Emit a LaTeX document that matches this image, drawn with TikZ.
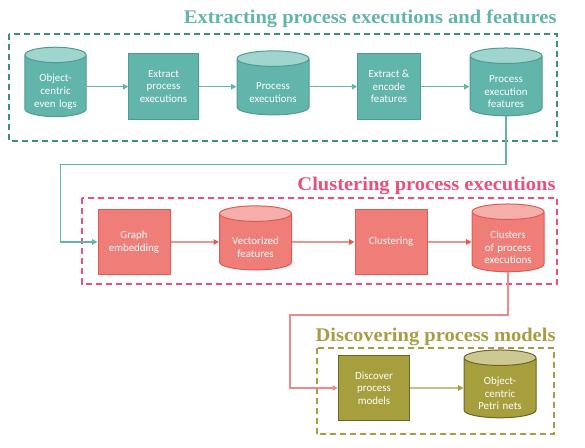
\documentclass[tikz,border=0pt]{standalone}
\usepackage{fontspec}
\setmainfont{Carlito}
\newfontfamily\headfont[FakeStretch=1.06]{Liberation Serif}
\usetikzlibrary{shapes.geometric,arrows.meta}

\definecolor{tealbody}{RGB}{98,181,170}
\definecolor{tealtop}{RGB}{160,213,206}
\definecolor{tealedge}{RGB}{78,156,146}
\definecolor{tealframe}{RGB}{63,140,131}
\definecolor{salmonbody}{RGB}{239,125,120}
\definecolor{salmontop}{RGB}{244,175,171}
\definecolor{salmonedge}{RGB}{226,90,82}
\definecolor{pinkframe}{RGB}{236,78,125}
\definecolor{pinkhead}{RGB}{233,80,122}
\definecolor{redlink}{RGB}{240,138,136}
\definecolor{olivebody}{RGB}{167,158,62}
\definecolor{olivetop}{RGB}{205,200,146}
\definecolor{oliveedge}{RGB}{107,102,40}
\definecolor{olivehead}{RGB}{168,157,69}

\tikzset{every picture/.style={line width=0.75pt},
  txt/.style={text=white,font=\fontsize{8.2}{9.5}\selectfont,align=center,inner sep=0pt},
  stepbox/.style={txt,rectangle,draw=#1edge,fill=#1body,minimum width=52pt,minimum height=49pt},
  store/.style={txt,cylinder,shape border rotate=90,aspect=0.215,draw=#1edge,
    cylinder uses custom fill,cylinder body fill=#1body,cylinder end fill=#1top,
    text width=54pt,minimum height=48pt,execute at begin node={\rule{0pt}{14pt}}},
  frame/.style={draw=#1,dash pattern=on 4.5pt off 3pt,line width=1.5pt},
  head/.style={font=\headfont\bfseries\fontsize{14.5}{17}\selectfont,text=#1,anchor=base east,inner sep=0pt},
  flow/.style={draw=#1,line width=1.1pt,-{Triangle[length=4pt,width=4pt]}}
}

\begin{document}
\begin{tikzpicture}[x=0.75pt,y=0.75pt,yscale=-1,xscale=1]
\useasboundingbox (0,0) rectangle (585,447);

%Extracting process executions and features
\draw [frame=tealframe] (9,33.5) rectangle (557,141);
\node [head=tealbody] (headA) at (557,23) {Extracting process executions and features};
\node [store=teal,text width=46pt,aspect=0.25] (oclog) at (55.5,86) {Object-\\centric\\even logs};
\node [stepbox=teal] (extract) at (163.5,86.5) {Extract\\process\\executions};
\node [store=teal] (procex) at (273,87) {Process\\executions};
\node [stepbox=teal,minimum width=47pt] (encode) at (389,86.5) {Extract \&\\encode\\features};
\node [store=teal] (pef) at (506,86) {Process\\execution\\features};
\draw [flow=tealbody] (oclog.east |- 0,86.7) -- (extract.west |- 0,86.7);
\draw [flow=tealbody] (extract.east |- 0,86.7) -- (procex.west |- 0,86.7);
\draw [flow=tealbody] (procex.east |- 0,86.7) -- (encode.west |- 0,86.7);
\draw [flow=tealbody] (encode.east |- 0,86.7) -- (pef.west |- 0,86.7);

%Clustering process executions
\draw [frame=pinkframe] (81.7,198.3) rectangle (557.3,284);
\node [head=pinkhead] (headB) at (556,190.7) {Clustering process executions};
\node [stepbox=salmon,minimum width=54pt] (embed) at (134,242) {Graph\\embedding};
\node [store=salmon] (vecfeat) at (255.5,242) {Vectorized\\features};
\node [stepbox=salmon,minimum width=54pt] (cluster) at (391,242) {Clustering};
\node [store=salmon] (clusters) at (508,242) {Clusters\\of process\\executions};
\draw [flow=salmonedge] (embed) -- (vecfeat);
\draw [flow=salmonedge] (vecfeat) -- (cluster);
\draw [flow=salmonedge] (cluster) -- (clusters);

%Discovering process models
\draw [frame=olivehead] (316.7,347.7) rectangle (554,434);
\node [head=olivehead] (headC) at (556,341.7) {Discovering process models};
\node [stepbox=olive,minimum width=53.5pt] (discover) at (374,388) {Discover\\process\\models};
\node [store=olive] (petri) at (500,388) {Object-\\centric\\Petri nets};
\draw [flow=olivehead] (discover) -- (petri);

%links between the stages
\coordinate (bendA) at (60.7,164.7);
\coordinate (bendB) at (290,315);
\draw [flow=tealbody] (pef.south) |- (bendA) |- (embed.west);
\draw [flow=redlink] (clusters.south) |- (bendB) |- (discover.west);

\end{tikzpicture}
\end{document}
